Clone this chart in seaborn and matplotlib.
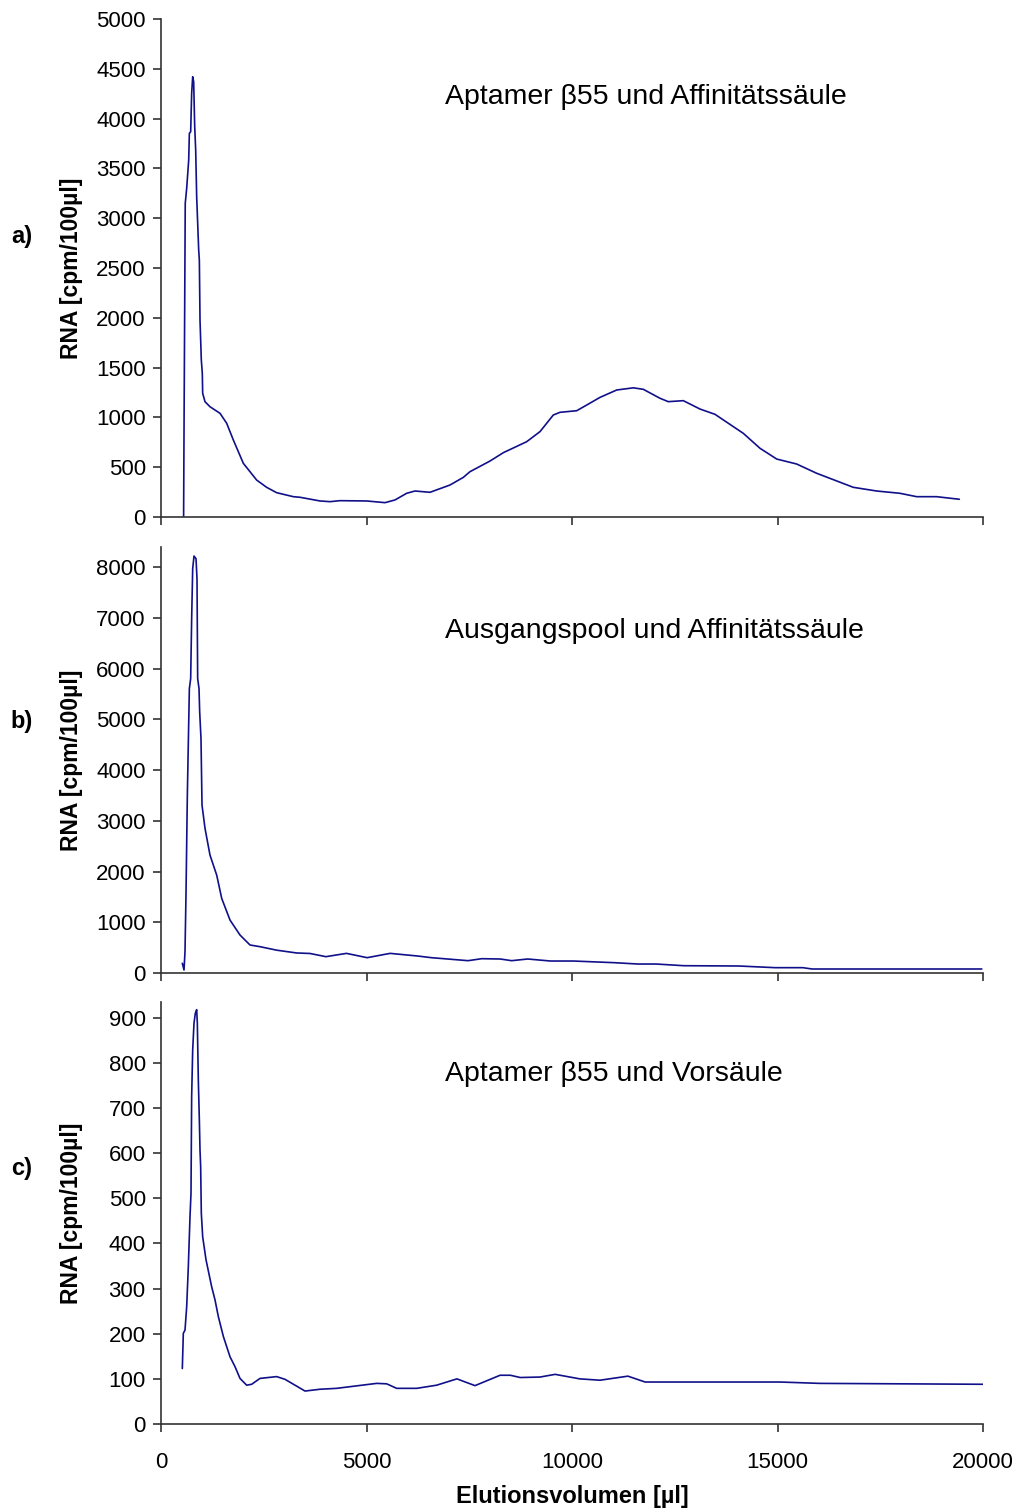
import matplotlib
matplotlib.use("Agg")
import matplotlib.pyplot as plt
import seaborn as sns
import pandas as pd

# ---- data ----
xa = [550, 560, 590, 625, 674, 690, 722, 746, 771, 795, 820, 844, 868, 917, 933, 949, 981, 1005, 1014,
      1070, 1192, 1436, 1598, 1760, 2003, 2327, 2570, 2814, 3219, 3382, 3868, 4112, 4355, 5004, 5450,
      5693, 5977, 6180, 6545, 7031, 7356, 7518, 8005, 8330, 8897, 9221, 9545, 9708, 10114, 10357,
      10681, 11087, 11492, 11735, 12141, 12343, 12708, 13114, 13479, 14168, 14574, 14980, 15466,
      15953, 16844, 17412, 17980, 18385, 18872, 19424]
ya = [0, 850, 3150, 3300, 3584, 3852, 3868, 4254, 4420, 4370, 3918, 3685, 3216, 2681, 2580, 1978, 1576, 1443, 1242,
      1158, 1107, 1041, 941, 773, 539, 371, 298, 244, 204, 198, 161, 154, 164, 161, 144,
      171, 238, 261, 248, 321, 398, 455, 562, 646, 756, 857, 1024, 1051, 1067, 1124,
      1201, 1275, 1297, 1282, 1192, 1158, 1168, 1084, 1031, 840, 690, 582, 532,
      439, 298, 261, 238, 204, 204, 178]

xb = [519, 560, 584, 608, 641, 673, 690, 722, 746, 771, 803, 852, 876, 892, 925, 941, 973, 998, 1071,
      1192, 1355, 1477, 1679, 1922, 2166, 2409, 2814, 3300, 3625, 4012, 4513, 5016, 5574, 6243, 6579,
      7471, 7805, 8253, 8532, 8922, 9479, 10038, 11043, 11601, 12046, 12717, 14056, 14948, 15617,
      15841, 19970]
yb = [191, 59, 420, 1537, 3507, 4886, 5608, 5805, 6987, 7973, 8222, 8169, 7775, 5805, 5608, 5148, 4624, 3310, 2851,
      2325, 1931, 1471, 1044, 749, 552, 519, 450, 395, 385, 322, 387, 302, 387, 335, 302,
      243, 282, 276, 243, 276, 236, 236, 203, 177, 177, 144, 138, 105, 105,
      79, 79]

xc = [519, 543, 584, 625, 665, 706, 730, 746, 771, 803, 835, 868, 884, 908, 933, 949, 965, 981, 1014,
      1095, 1233, 1314, 1395, 1517, 1679, 1801, 1922, 2084, 2206, 2409, 2814, 3017, 3504, 3868, 4274,
      5248, 5491, 5734, 6221, 6707, 7200, 7640, 8250, 8500, 8740, 9220, 9590, 10190, 10680, 11360,
      11780, 15060, 16030, 20000]
yc = [123, 201, 208, 260, 349, 460, 511, 726, 829, 888, 910, 918, 888, 763, 674, 607, 570, 467, 415,
      364, 304, 275, 238, 194, 149, 127, 101, 86, 88, 101, 105, 99, 73, 77, 79,
      90, 89, 79, 79, 86, 100, 85, 108, 108, 103, 104, 110, 100, 97, 106,
      93, 93, 90, 88]

titles = ["Aptamer \u03b255 und Affinitätssäule", "Ausgangspool und Affinitätssäule", "Aptamer \u03b255 und Vorsäule"]
panel_labels = ["a)", "b)", "c)"]
yticks_list = [list(range(0, 5001, 500)), list(range(0, 8001, 1000)), list(range(0, 901, 100))]
ylims = [(0, 5000), (0, 8400), (0, 935)]
xticks = [0, 5000, 10000, 15000, 20000]

sns.set_style("ticks")
plt.rcParams['font.family'] = ['Liberation Sans', 'DejaVu Sans']
plt.rcParams['text.color'] = 'black'
plt.rcParams['axes.labelcolor'] = 'black'
plt.rcParams['xtick.color'] = 'black'
plt.rcParams['ytick.color'] = 'black'

fig = plt.figure(figsize=(10.2, 15.12), dpi=100)
W, H = 1020, 1512
left, right = 161, 983
boxes = [(19, 517), (547, 973), (1002, 1424)]
line_color = "#10108a"

data = [(xa, ya), (xb, yb), (xc, yc)]
title_y = [97, 631, 1074]
label_y = [237, 722, 1168]

for i, ((top, bot), (xs, ys)) in enumerate(zip(boxes, data)):
    ax = fig.add_axes([left / W, 1 - bot / H, (right - left) / W, (bot - top) / H])
    df = pd.DataFrame({"x": xs, "y": ys})
    sns.lineplot(data=df, x="x", y="y", ax=ax, color=line_color, linewidth=1.2, sort=False,
                 estimator=None)
    ax.set_xlim(0, 20000)
    ax.set_ylim(*ylims[i])
    ax.set_yticks(yticks_list[i])
    ax.set_xticks(xticks)
    ax.tick_params(axis="both", direction="out", length=6, width=1.2, color="#333333",
                   labelsize=16, labelcolor="black")
    ax.tick_params(axis="y", pad=5)
    ax.tick_params(axis="x", pad=14)
    if i < 2:
        ax.set_xticklabels([])
    ax.set_xlabel("")
    ax.set_ylabel("RNA [cpm/100\u00b5l]", fontsize=16.5, fontweight="bold", color="black")
    ax.yaxis.set_label_coords(-0.095, 0.5)
    for s in ["top", "right"]:
        ax.spines[s].set_visible(False)
    for s in ["left", "bottom"]:
        ax.spines[s].set_color("#333333")
        ax.spines[s].set_linewidth(1.2)
    fig.text(445 / W, 1 - title_y[i] / H, titles[i], fontsize=20.5, ha="left", va="center",
             color="black")
    fig.text(22 / W, 1 - label_y[i] / H, panel_labels[i], fontsize=17, fontweight="bold",
             ha="center", va="center", color="black")
    if i == 2:
        ax.set_xlabel("Elutionsvolumen [\u00b5l]", fontsize=17, fontweight="bold", labelpad=9,
                      color="black")

fig.savefig("out.png", dpi=100)
